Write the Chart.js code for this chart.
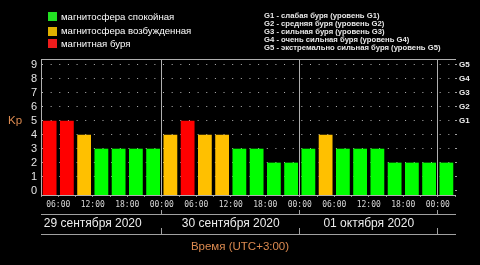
<!DOCTYPE html>
<html><head><meta charset="utf-8">
<script src="https://cdn.jsdelivr.net/npm/chart.js@4"></script>
<style>
html,body{margin:0;padding:0;background:#000;overflow:hidden}
#wrap{position:relative;width:480px;height:265px;background:#000}
canvas{position:absolute;left:0;top:0}
.legrow{position:absolute;left:61px;color:#fff;font:9.6px "Liberation Sans",Arial,sans-serif;white-space:nowrap;height:14px;line-height:14px}
.sq{position:absolute;left:48px;width:9px;height:9px}
#legR{position:absolute;left:264px;top:11.6px;color:#e8e8e8;font:bold 7.7px "Liberation Sans",Arial,sans-serif;line-height:8.15px;white-space:nowrap}
</style></head><body>
<div id="wrap">
<canvas id="c" width="480" height="265"></canvas>
<div id="legL"></div>
<div id="legR"></div>
</div>
<script>
// ---- data ----
const kpValues = [5,5,4,3,3,3,3, 4,5,4,4,3,3,2,2, 3,4,3,3,3,2,2,2, 2];
const barCenterHours = [4.5,7.5,10.5,13.5,16.5,19.5,22.5, 25.5,28.5,31.5,34.5,37.5,40.5,43.5,46.5, 49.5,52.5,55.5,58.5,61.5,64.5,67.5,70.5, 73.5];
const timeTickLabels = ['00:00','06:00','12:00','18:00'];
const dayLabels = ['29 сентября 2020','30 сентября 2020','01 октября 2020'];
const dayCenterHours = [12, 36, 60];
const kpTicks = [0,1,2,3,4,5,6,7,8,9];
const gLevelLabels = ['G1','G2','G3','G4','G5'];
const gLevelKp = [5,6,7,8,9];
const statusLabels = ['магнитосфера спокойная','магнитосфера возбужденная','магнитная буря'];
const stormDescriptions = [
  'G1 - слабая буря (уровень G1)',
  'G2 - средняя буря (уровень G2)',
  'G3 - сильная буря (уровень G3)',
  'G4 - очень сильная буря (уровень G4)',
  'G5 - экстремально сильная буря (уровень G5)'
];
const yAxisTitle = 'Kp';
const xAxisTitle = 'Время (UTC+3:00)';
const hourMin = 3, hourMax = 75;
const kpMin = -0.32, kpMax = 9.43;

// ---- styles ----
const barColors = ['#00ff00', '#ffc000', '#ff0000'];
const legendColors = ['#22e022', '#e0b000', '#ee1c1c'];
const orange = '#dc8a50';
const axisGray = '#b0b0b0';
const lineGray = '#a0a0a0';
const statusOf = kp => kp >= 5 ? 2 : (kp >= 4 ? 1 : 0);

// ---- HTML legends ----
const legL = document.getElementById('legL');
const rowCenters = [16.5, 31, 43.5];
statusLabels.forEach((t, i) => {
  const sq = document.createElement('div');
  sq.className = 'sq';
  sq.style.top = (rowCenters[i] - 4.5) + 'px';
  sq.style.background = legendColors[i];
  legL.appendChild(sq);
  const r = document.createElement('div');
  r.className = 'legrow';
  r.style.top = (rowCenters[i] - 7) + 'px';
  r.textContent = t;
  legL.appendChild(r);
});
document.getElementById('legR').innerHTML = stormDescriptions.map(s => '<div>' + s + '</div>').join('');

// ---- chart ----
const kpLabelPlugin = {
  id: 'kpLabel',
  afterDraw(chart) {
    const y = chart.scales.y, ctx = chart.ctx;
    ctx.save();
    ctx.fillStyle = orange;
    ctx.font = '11.5px "Liberation Sans", Arial, sans-serif';
    ctx.textAlign = 'center';
    ctx.textBaseline = 'middle';
    ctx.fillText(yAxisTitle, 15, y.getPixelForValue(5));
    ctx.restore();
  }
};

const fixedTicks = arr => scale => { scale.ticks = arr.map(v => ({ value: v })); };

new Chart(document.getElementById('c'), {
  type: 'bar',
  data: {
    datasets: [{
      data: kpValues.map((v, i) => ({ x: barCenterHours[i], y: v })),
      backgroundColor: kpValues.map(v => barColors[statusOf(v)]),
      borderWidth: 0,
      base: kpMin,
      categoryPercentage: 0.8,
      barPercentage: 1,
      xAxisID: 'xTime',
      yAxisID: 'y'
    }]
  },
  options: {
    responsive: false,
    animation: false,
    layout: { padding: 0 },
    plugins: {
      legend: { display: false },
      tooltip: { enabled: false },
      title: {
        display: true, position: 'bottom', text: xAxisTitle, color: orange,
        font: { family: '"Liberation Sans", Arial, sans-serif', size: 11.5, weight: 'normal' },
        padding: { top: 2.2, bottom: 10.8 }
      }
    },
    scales: {
      xTop: {
        type: 'linear', position: 'top', min: hourMin, max: hourMax, offset: false,
        ticks: { display: false },
        grid: { offset: false, drawOnChartArea: false, drawTicks: false },
        border: { display: true, color: axisGray },
        afterFit: s => { s.height = 59; }
      },
      xTime: {
        type: 'linear', position: 'bottom', min: hourMin, max: hourMax, offset: false, weight: 0,
        ticks: {
          stepSize: 3, autoSkip: false, maxRotation: 0, padding: 3, color: '#d8d8d8',
          font: { family: '"DejaVu Sans Mono", monospace', size: 8 },
          callback: v => v % 6 === 0 ? timeTickLabels[(v % 24) / 6] : ''
        },
        grid: {
          offset: false, drawOnChartArea: true, drawTicks: true, tickLength: 2,
          color: c => (c.tick && c.tick.value % 24 === 0) ? axisGray : 'rgba(0,0,0,0)',
          tickColor: '#909090'
        },
        border: { display: true, color: axisGray },
        afterFit: s => { s.height = 19; }
      },
      xDate: {
        type: 'linear', position: 'bottom', min: hourMin, max: hourMax, offset: false, weight: 1,
        afterBuildTicks: fixedTicks(dayCenterHours),
        ticks: {
          autoSkip: false, maxRotation: 0, padding: 6, color: '#ececec',
          font: { family: '"Liberation Sans", Arial, sans-serif', size: 12 },
          callback: (v, i) => dayLabels[i]
        },
        grid: { offset: true, drawOnChartArea: false, drawTicks: true, tickLength: -4, color: lineGray, tickColor: lineGray },
        border: { display: true, color: lineGray },
        afterFit: s => { s.height = 20; }
      },
      xBot: {
        type: 'linear', position: 'bottom', min: hourMin, max: hourMax, offset: false, weight: 2,
        afterBuildTicks: fixedTicks(dayCenterHours),
        ticks: { display: false },
        grid: { offset: true, drawOnChartArea: false, drawTicks: true, tickLength: -6, color: lineGray, tickColor: lineGray },
        border: { display: true, color: lineGray },
        afterFit: s => { s.height = 4.2; }
      },
      y: {
        type: 'linear', position: 'left', min: kpMin, max: kpMax,
        afterBuildTicks: fixedTicks(kpTicks),
        ticks: { autoSkip: false, color: '#e4e4e4', padding: 4, font: { family: '"Liberation Sans", Arial, sans-serif', size: 11 } },
        grid: {
          drawTicks: false,
          color: c => (c.tick && c.tick.value > 0) ? '#b4b4b4' : 'rgba(0,0,0,0)'
        },
        border: { display: true, color: axisGray, dash: [1, 7.645] },
        afterFit: s => { s.width = 41; }
      },
      yG: {
        type: 'linear', position: 'right', min: kpMin, max: kpMax,
        afterBuildTicks: fixedTicks(kpTicks),
        ticks: {
          autoSkip: false, color: '#f0f0f0', padding: 2,
          font: { family: '"Liberation Sans", Arial, sans-serif', size: 8, weight: 'bold' },
          callback: v => { const i = gLevelKp.indexOf(v); return i >= 0 ? gLevelLabels[i] : ''; }
        },
        grid: { drawOnChartArea: false, drawTicks: true, tickLength: 2, tickColor: '#a0a0a0' },
        border: { display: false },
        afterFit: s => { s.width = 25; }
      }
    }
  },
  plugins: [kpLabelPlugin]
});
</script>
</body></html>
